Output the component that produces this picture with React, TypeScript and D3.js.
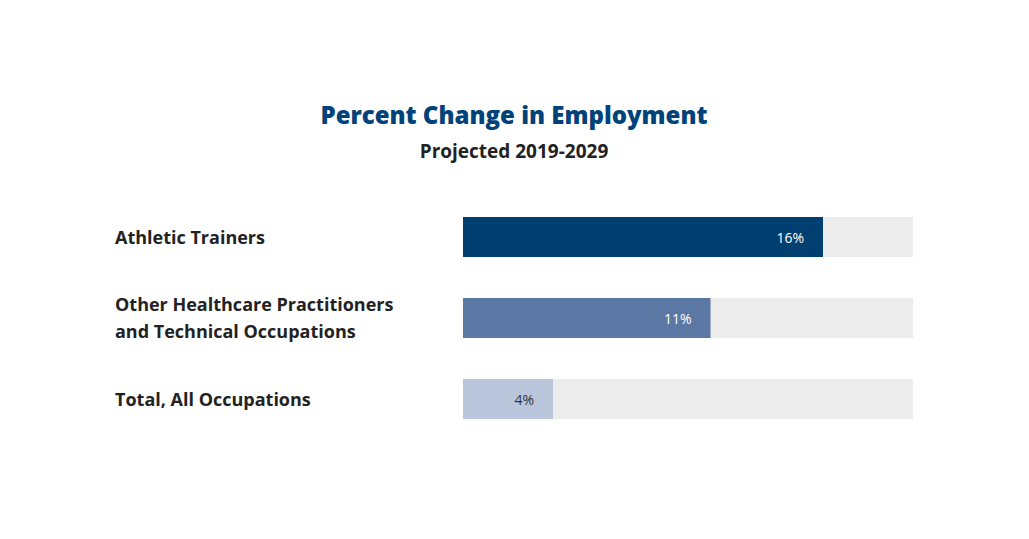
import React from "react";
import * as d3 from "d3";

const categories: string[][] = [
  ["Athletic Trainers"],
  ["Other Healthcare Practitioners", "and Technical Occupations"],
  ["Total, All Occupations"],
];
const values: number[] = [16, 11, 4];
const valueLabels: string[] = ["16%", "11%", "4%"];
const barColors: string[] = ["#013f71", "#5b78a4", "#b9c5da"];
const labelColors: string[] = ["#ffffff", "#ffffff", "#333333"];
const domainMax = 20;

export default function App() {
  const W = 1029;
  const H = 539;
  const x = d3.scaleLinear().domain([0, domainMax]).range([463, 913]);
  const bandH = 40;
  const y = d3
    .scaleLinear()
    .domain([0, values.length - 1])
    .range([217, 379]);
  const font = "'Open Sans', sans-serif";
  return (
    <svg
      width={W}
      height={H}
      style={{ position: "absolute", left: 0, top: 0, background: "#fff" }}
    >
      <text
        x={514}
        y={124}
        textAnchor="middle"
        fontFamily={font}
        fontWeight={800}
        fontSize={24}
        fill="#00427a"
      >
        Percent Change in Employment
      </text>
      <text
        x={514}
        y={158}
        textAnchor="middle"
        fontFamily={font}
        fontWeight={700}
        fontSize={19}
        fill="#222"
      >
        Projected 2019-2029
      </text>
      {values.map((v, i) => {
        const yy = y(i);
        const lines = categories[i];
        const cy = yy + bandH / 2;
        const lh = 27;
        return (
          <g key={i}>
            <rect x={x(0)} y={yy} width={x(domainMax) - x(0)} height={bandH} fill="#ececec" />
            <rect x={x(0)} y={yy} width={x(v) - x(0)} height={bandH} fill={barColors[i]} />
            <text
              x={x(v) - 19}
              y={cy + 5.5}
              textAnchor="end"
              fontFamily={font}
              fontWeight={400}
              fontSize={14}
              fill={labelColors[i]}
            >
              {valueLabels[i]}
            </text>
            {lines.map((ln, j) => (
              <text
                key={j}
                x={115}
                y={cy + 6.5 + (j - (lines.length - 1) / 2) * lh}
                fontFamily={font}
                fontWeight={700}
                fontSize={18}
                fill="#222"
              >
                {ln}
              </text>
            ))}
          </g>
        );
      })}
    </svg>
  );
}
